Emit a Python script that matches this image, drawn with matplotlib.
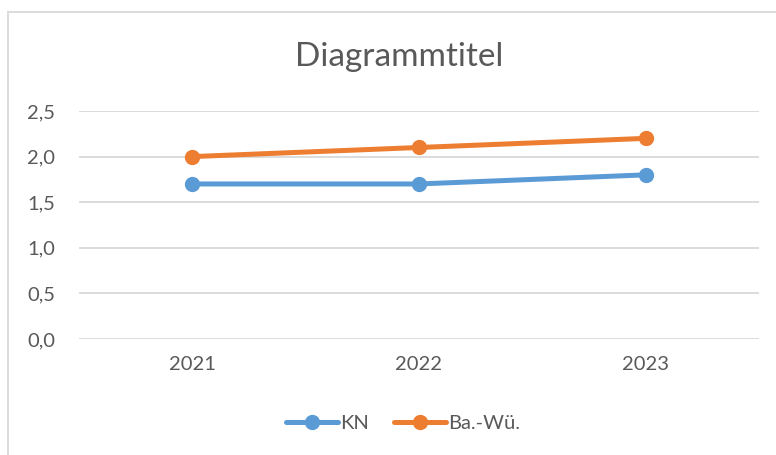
import matplotlib.pyplot as plt
from matplotlib.patches import Rectangle
from matplotlib.ticker import FuncFormatter

plt.rcParams['font.family'] = ['Lato', 'DejaVu Sans']

years = ['2021', '2022', '2023']
kn = [1.7, 1.7, 1.8]
bawue = [2.0, 2.1, 2.2]

txt = '#595959'
grid = '#D9D9D9'

fig = plt.figure(figsize=(7.76, 4.55), dpi=100)
ax = fig.add_axes([79/776, 1 - 339/455, (759 - 79)/776, (339 - 111)/455])

x = range(len(years))
ax.plot(x, kn, color='#5B9BD5', lw=3.6, marker='o', ms=10, label='KN', solid_capstyle='round')
ax.plot(x, bawue, color='#ED7D31', lw=3.6, marker='o', ms=10, label='Ba.-Wü.', solid_capstyle='round')

ax.set_xlim(-0.5, 2.5)
ax.set_ylim(0, 2.5)
ax.set_yticks([0, 0.5, 1.0, 1.5, 2.0, 2.5])
ax.yaxis.set_major_formatter(FuncFormatter(lambda v, p: f'{v:.1f}'.replace('.', ',')))
ax.set_xticks(list(x))
ax.set_xticklabels(years)
ax.tick_params(length=0, colors=txt, labelsize=14.5)
ax.tick_params(axis='x', pad=12)
ax.tick_params(axis='y', pad=17)
for s in ax.spines.values():
    s.set_visible(False)
ax.grid(axis='y', color=grid, lw=1.3)
ax.set_axisbelow(True)

fig.text(399/776, 1 - 57/455, 'Diagrammtitel', ha='center', va='center', fontsize=24, color=txt)

leg = fig.legend(loc='center', bbox_to_anchor=(403/776, 1 - 423/455), ncol=2, frameon=False,
                 fontsize=14.5, labelcolor=txt, handlelength=2.6, handletextpad=0.1, columnspacing=1.2)

fig.patches.append(Rectangle((8/776, -0.1), 1.2, 1 - 12/455 + 0.1, transform=fig.transFigure,
                             fill=False, edgecolor=grid, lw=1.3))

fig.savefig('out.png', dpi=100)
